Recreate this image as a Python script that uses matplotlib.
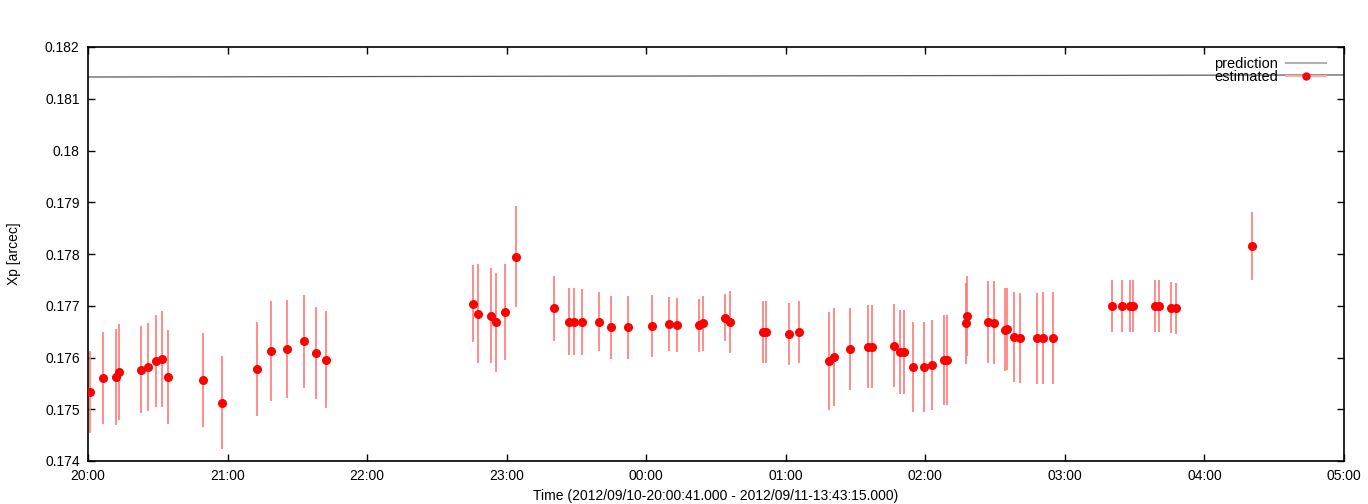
import matplotlib
matplotlib.use("Agg")
import matplotlib.pyplot as plt
from matplotlib.lines import Line2D

# hours since 20:00
est_time = [0.011, 0.110, 0.200, 0.222, 0.377, 0.430, 0.487, 0.532, 0.573, 0.826,
            0.962, 1.212, 1.313, 1.427, 1.546, 1.632, 1.707,
            2.756, 2.794, 2.888, 2.923, 2.985, 3.069, 3.341, 3.450, 3.479, 3.543,
            3.665, 3.751, 3.873, 4.044, 4.162, 4.219, 4.381, 4.409, 4.565, 4.603,
            4.835, 4.858, 5.025, 5.097, 5.311, 5.347, 5.462, 5.590, 5.619, 5.777,
            5.820, 5.848, 5.913, 5.992, 6.049, 6.133, 6.152, 6.288, 6.299, 6.450,
            6.493, 6.571, 6.586, 6.636, 6.681, 6.798, 6.843, 6.915,
            7.335, 7.409, 7.469, 7.488, 7.648, 7.676, 7.757, 7.798, 8.339]
est_val = [0.17533, 0.17560, 0.17563, 0.17572, 0.17576, 0.17581, 0.17594, 0.17597, 0.17563, 0.17557,
           0.17513, 0.17578, 0.17613, 0.17617, 0.17631, 0.17608, 0.17596,
           0.17704, 0.17685, 0.17681, 0.17668, 0.17688, 0.17795, 0.17695, 0.17669, 0.17669, 0.17669,
           0.17669, 0.17658, 0.17658, 0.17660, 0.17665, 0.17663, 0.17662, 0.17666, 0.17677, 0.17669,
           0.17649, 0.17649, 0.17645, 0.17649, 0.17593, 0.17601, 0.17617, 0.17621, 0.17621, 0.17623,
           0.17610, 0.17610, 0.17582, 0.17582, 0.17586, 0.17596, 0.17595, 0.17666, 0.17680, 0.17669,
           0.17667, 0.17654, 0.17655, 0.17640, 0.17638, 0.17637, 0.17638, 0.17638,
           0.17699, 0.17699, 0.17699, 0.17699, 0.17699, 0.17699, 0.17696, 0.17695, 0.17815]
est_err = [0.00079, 0.00089, 0.00093, 0.00093, 0.00084, 0.00085, 0.00089, 0.00092, 0.00091, 0.00091,
           0.00089, 0.00091, 0.00097, 0.00095, 0.00090, 0.00089, 0.00093,
           0.00075, 0.00096, 0.00092, 0.00096, 0.00092, 0.00097, 0.00063, 0.00065, 0.00065, 0.00064,
           0.00057, 0.00060, 0.00060, 0.00060, 0.00052, 0.00052, 0.00052, 0.00053, 0.00046, 0.00060,
           0.00060, 0.00060, 0.00060, 0.00060, 0.00095, 0.00094, 0.00079, 0.00080, 0.00080, 0.00080,
           0.00081, 0.00081, 0.00087, 0.00087, 0.00087, 0.00087, 0.00087, 0.00078, 0.00077, 0.00079,
           0.00080, 0.00080, 0.00080, 0.00087, 0.00087, 0.00088, 0.00089, 0.00089,
           0.00050, 0.00050, 0.00050, 0.00050, 0.00050, 0.00050, 0.00049, 0.00049, 0.00066]

pred_time = [0.0, 9.0]
pred_val = [0.18142, 0.18146]

xtick_labels = ["20:00", "21:00", "22:00", "23:00", "00:00", "01:00",
                "02:00", "03:00", "04:00", "05:00"]
ytick_vals = [0.174, 0.175, 0.176, 0.177, 0.178, 0.179, 0.18, 0.181, 0.182]
ytick_labels = ["0.174", "0.175", "0.176", "0.177", "0.178", "0.179", "0.18", "0.181", "0.182"]

plt.rcParams['font.family'] = ['Liberation Sans', 'DejaVu Sans']
plt.rcParams['font.size'] = 10

fig = plt.figure(figsize=(13.68, 5.04), dpi=100)
ax = fig.add_axes([88 / 1368, 43 / 504, (1344 - 88) / 1368, (461 - 47) / 504])

ax.plot(pred_time, pred_val, color='#5a5a5a', lw=0.9, zorder=2)
ax.errorbar(est_time, est_val, yerr=est_err, fmt='o', color='red', ms=5.5,
            ecolor='#ff7878', elinewidth=1.2, capsize=0, zorder=3)

ax.set_xlim(0, 9)
ax.set_ylim(0.174, 0.182)
ax.set_xticks(range(len(xtick_labels)))
ax.set_xticklabels(xtick_labels)
ax.set_yticks(ytick_vals)
ax.set_yticklabels(ytick_labels)
ax.tick_params(direction='in', top=True, right=True, length=5, width=1,
               labelsize=10, pad=6)
for s in ax.spines.values():
    s.set_linewidth(1.2)

ax.set_xlabel("Time (2012/09/10-20:00:41.000 - 2012/09/11-13:43:15.000)", labelpad=4)
ax.set_ylabel("Xp [arcec]", labelpad=17)

handles = [Line2D([], [], color='#b0b0b0', lw=1.5),
           Line2D([], [], color='#ffaaaa', lw=1.5, marker='o', mfc='red', mec='red', ms=5)]
ax.legend(handles, ["prediction", "estimated"], loc='upper right', frameon=False,
          markerfirst=False, handlelength=2.7, handletextpad=0.55, labelspacing=-0.1,
          borderaxespad=0.3, fontsize=10.5, bbox_to_anchor=(0.9935, 1.0))

fig.savefig("out.png", dpi=100)
